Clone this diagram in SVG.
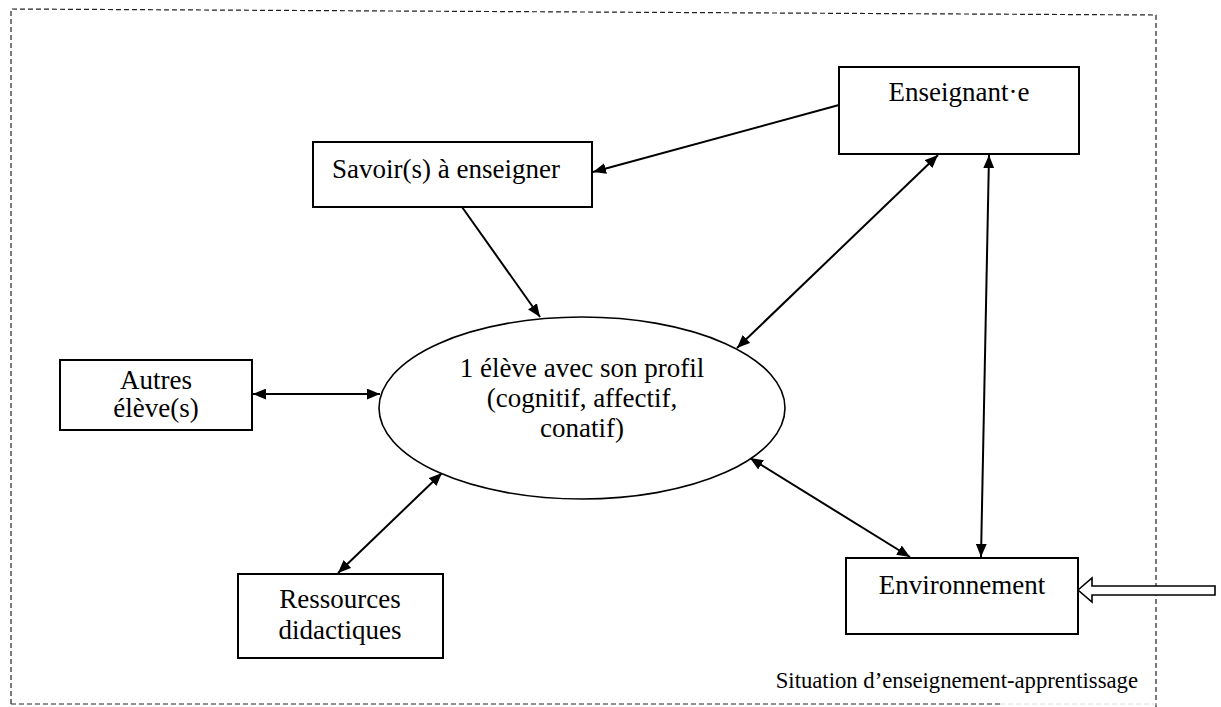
<svg xmlns="http://www.w3.org/2000/svg" width="1221" height="707" viewBox="0 0 1221 707">
<style>
.box{fill:#fff;stroke:#000;stroke-width:2}
.t{font-family:"Liberation Serif","Times New Roman",serif;font-size:27px;fill:#000}
.c{text-anchor:middle}
.con{stroke:#000;stroke-width:2;fill:none}
.frame{stroke:#222;stroke-width:1.2;fill:none;stroke-dasharray:5,3}
</style>
<defs>
<marker id="ah" viewBox="0 0 12 10" refX="12" refY="5" markerWidth="13" markerHeight="11" markerUnits="userSpaceOnUse" orient="auto-start-reverse">
<path d="M0,0 L12,5 L0,10 z" fill="#000"/>
</marker>
</defs>
<rect width="1221" height="707" fill="#fff"/>
<g id="frame">
<path class="frame" d="M11,704 V9 L1156,15 V707"/>
<path class="frame" d="M11,704 H1000"/>
<path class="frame" d="M1000,704 H1157" style="stroke:#ddd"/>
</g>
<g id="connectors">
<line class="con" x1="839" y1="105" x2="593" y2="172" marker-end="url(#ah)"/>
<line class="con" x1="462" y1="207" x2="540" y2="317" marker-end="url(#ah)"/>
<line class="con" x1="938" y1="155" x2="737" y2="348" marker-start="url(#ah)" marker-end="url(#ah)"/>
<line class="con" x1="989" y1="155" x2="981" y2="557" marker-start="url(#ah)" marker-end="url(#ah)"/>
<line class="con" x1="750" y1="458" x2="910" y2="557" marker-start="url(#ah)" marker-end="url(#ah)"/>
<line class="con" x1="253" y1="394" x2="380" y2="394" marker-start="url(#ah)" marker-end="url(#ah)"/>
<line class="con" x1="338" y1="573" x2="442" y2="473" marker-start="url(#ah)" marker-end="url(#ah)"/>
<path d="M1078,590 L1092,578 V586 H1215 V595 H1092 V602 Z" fill="#fff" stroke="#000" stroke-width="1.6" stroke-linejoin="miter"/>
</g>
<g id="enseignant">
<rect class="box" x="839" y="67" width="240" height="87"/>
<text class="t c" x="959" y="101">Enseignant·e</text>
</g>
<g id="savoir">
<rect class="box" x="313" y="142" width="279" height="65"/>
<text class="t" x="332" y="178">Savoir(s) à enseigner</text>
</g>
<g id="eleve">
<ellipse cx="582" cy="408" rx="203" ry="91" fill="#fff" stroke="#000" stroke-width="1.6"/>
<text class="t c" x="582" y="377">1 élève avec son profil</text>
<text class="t c" x="582" y="407">(cognitif, affectif,</text>
<text class="t c" x="582" y="437">conatif)</text>
</g>
<g id="autres">
<rect class="box" x="60" y="360" width="192" height="70"/>
<text class="t c" x="156" y="389">Autres</text>
<text class="t c" x="156" y="417">élève(s)</text>
</g>
<g id="ressources">
<rect class="box" x="238" y="574" width="205" height="84"/>
<text class="t c" x="340" y="608">Ressources</text>
<text class="t c" x="340" y="639">didactiques</text>
</g>
<g id="environnement">
<rect class="box" x="846" y="558" width="232" height="76"/>
<text class="t c" x="962" y="594">Environnement</text>
</g>
<g id="situation">
<text class="t" style="font-size:22.7px;text-anchor:end" x="1138" y="688">Situation d’enseignement-apprentissage</text>
</g>
</svg>
